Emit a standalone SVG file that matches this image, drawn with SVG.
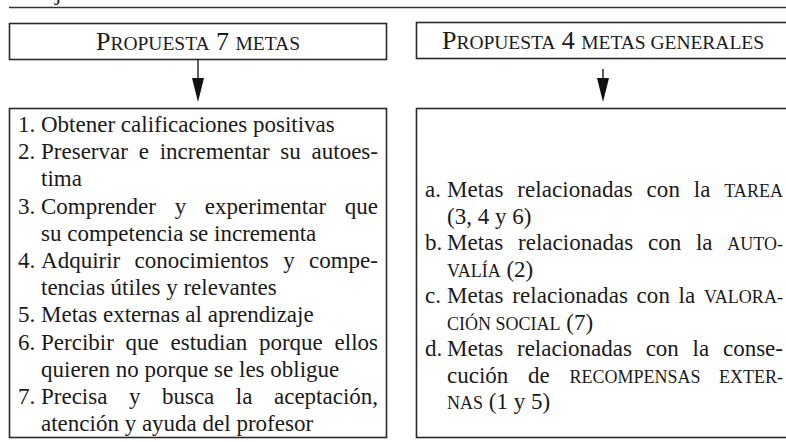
<svg xmlns="http://www.w3.org/2000/svg" width="786" height="442" viewBox="0 0 786 442">
<defs>
<style>
text{font-family:"Liberation Serif","Times New Roman",serif;fill:#1a1a1a;font-size:23px}
.sc{font-size:18px}
.hsc{font-size:19.5px}
.hd{font-size:26px}
.box{fill:#fff;stroke:#2a2a2a;stroke-width:1.6}
.rule{stroke:#333;stroke-width:1.6}
.conn line{stroke:#1a1a1a;stroke-width:1.4}
.conn polygon{fill:#111}
</style>
</defs>
<rect width="786" height="442" fill="#fff"/>
<text x="55" y="0">j</text>
<line class="rule" x1="9" y1="7.5" x2="786" y2="7.5"/>

<g id="header-left">
<rect class="box" x="9.5" y="23.5" width="377" height="36"/>
<text class="hd" x="198" y="50" text-anchor="middle" textLength="204" lengthAdjust="spacing">P<tspan class="hsc">ROPUESTA</tspan> 7 <tspan class="hsc">METAS</tspan></text>
</g>

<g id="header-right">
<rect class="box" x="416.5" y="22.5" width="380" height="36"/>
<text class="hd" x="603" y="49" text-anchor="middle" textLength="322" lengthAdjust="spacing">P<tspan class="hsc">ROPUESTA</tspan> 4 <tspan class="hsc">METAS GENERALES</tspan></text>
</g>

<g id="connectors" class="conn">
<line x1="198" y1="60" x2="198" y2="82"/>
<polygon points="192,78 204,78 198,102"/>
<line x1="603" y1="69" x2="603" y2="82"/>
<polygon points="597,78 609,78 603,102"/>
</g>

<g id="list-left">
<rect class="box" x="9.5" y="108.5" width="377" height="329"/>
<text x="18" y="132">1.</text>
<text x="41" y="132">Obtener calificaciones positivas</text>
<text x="18" y="159.2">2.</text>
<text x="41" y="159.2" word-spacing="5" textLength="337" lengthAdjust="spacing">Preservar e incrementar su autoes-</text>
<text x="41" y="186.4">tima</text>
<text x="18" y="213.6">3.</text>
<text x="41" y="213.6" word-spacing="12.9" textLength="337" lengthAdjust="spacing">Comprender y experimentar que</text>
<text x="41" y="240.8">su competencia se incrementa</text>
<text x="18" y="268">4.</text>
<text x="41" y="268" word-spacing="8.6" textLength="337" lengthAdjust="spacing">Adquirir conocimientos y compe-</text>
<text x="41" y="295.2">tencias útiles y relevantes</text>
<text x="18" y="322.4">5.</text>
<text x="41" y="322.4">Metas externas al aprendizaje</text>
<text x="18" y="349.6">6.</text>
<text x="41" y="349.6" word-spacing="6" textLength="337" lengthAdjust="spacing">Percibir que estudian porque ellos</text>
<text x="41" y="376.8">quieren no porque se les obligue</text>
<text x="18" y="404">7.</text>
<text x="41" y="404" word-spacing="15.8" textLength="337" lengthAdjust="spacing">Precisa y busca la aceptación,</text>
<text x="41" y="431.2">atención y ayuda del profesor</text>
</g>

<g id="list-right">
<rect class="box" x="416.5" y="108.5" width="380" height="329"/>
<text x="425" y="197">a.</text>
<text x="447" y="197" word-spacing="8" textLength="336" lengthAdjust="spacing">Metas relacionadas con la <tspan class="sc">TAREA</tspan></text>
<text x="447" y="223.5">(3, 4 y 6)</text>
<text x="425" y="250">b.</text>
<text x="447" y="250" word-spacing="9" textLength="336" lengthAdjust="spacing">Metas relacionadas con la <tspan class="sc">AUTO-</tspan></text>
<text x="447" y="276.5"><tspan class="sc">VALÍA</tspan> (2)</text>
<text x="425" y="303">c.</text>
<text x="447" y="303" word-spacing="2.75" textLength="336" lengthAdjust="spacing">Metas relacionadas con la <tspan class="sc">VALORA-</tspan></text>
<text x="447" y="329.5"><tspan class="sc">CIÓN SOCIAL</tspan> (7)</text>
<text x="425" y="356">d.</text>
<text x="447" y="356" word-spacing="8" textLength="336" lengthAdjust="spacing">Metas relacionadas con la conse-</text>
<text x="447" y="382.5" word-spacing="14" textLength="336" lengthAdjust="spacing">cución de <tspan class="sc">RECOMPENSAS EXTER-</tspan></text>
<text x="447" y="409"><tspan class="sc">NAS</tspan> (1 y 5)</text>
</g>
</svg>
